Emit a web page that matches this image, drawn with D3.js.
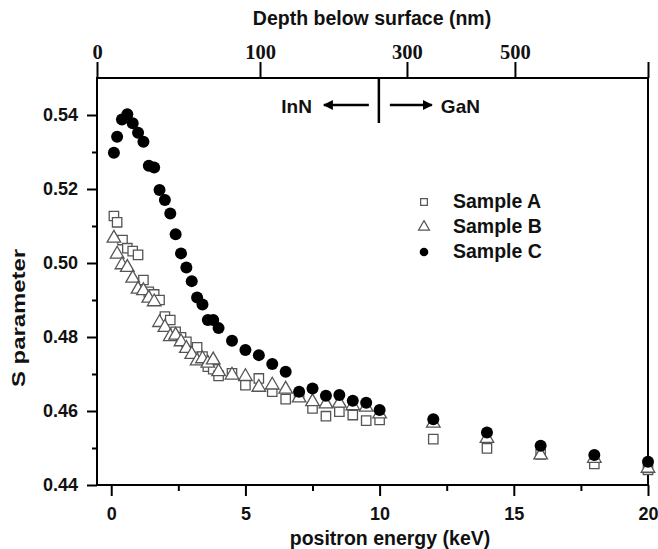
<!DOCTYPE html>
<html><head><meta charset="utf-8">
<script src="https://cdn.jsdelivr.net/npm/d3@7"></script>
<style>body{margin:0;background:#fff}svg{display:block}</style>
</head><body><svg id="c" width="658" height="549"></svg>
<script>
// ---- data ----
const energyC = [0.1,0.22,0.4,0.6,0.8,1.0,1.2,1.4,1.6,1.8,2.0,2.2,2.4,2.6,2.8,3.0,3.2,3.4,3.6,3.8,4.0,4.5,5.0,5.5,6.0,6.5,7.0,7.5,8.0,8.5,9.0,9.5,10,12,14,16,18,20];
const sampleC = [0.5298,0.5341,0.5388,0.5402,0.5378,0.5352,0.5328,0.5263,0.5258,0.5197,0.5170,0.5134,0.5078,0.5026,0.4988,0.4951,0.4907,0.4888,0.4846,0.4846,0.4824,0.4790,0.4765,0.4751,0.4727,0.4706,0.4652,0.4661,0.4641,0.4643,0.4628,0.4622,0.4603,0.4578,0.4542,0.4506,0.4481,0.4463];
const energyA = [0.1,0.22,0.42,0.6,0.8,1.0,1.2,1.4,1.6,1.8,2.0,2.2,2.4,2.6,2.8,3.2,3.4,3.6,3.8,4.0,4.5,5.0,5.5,6.0,6.5,7.0,7.5,8.0,8.5,9.0,9.5,10,12,14,16,18,20];
const sampleA = [0.5127,0.5110,0.5062,0.5040,0.5032,0.5022,0.4954,0.4922,0.4915,0.4900,0.4855,0.4846,0.4814,0.4799,0.4787,0.4772,0.4747,0.4720,0.4713,0.4695,0.4702,0.4670,0.4688,0.4652,0.4632,0.4639,0.4607,0.4586,0.4598,0.4589,0.4574,0.4576,0.4524,0.4499,0.4483,0.4457,0.4441];
const energyB = [0.1,0.22,0.4,0.6,0.8,1.0,1.2,1.4,1.6,1.8,2.0,2.2,2.4,2.6,2.8,3.0,3.2,3.4,3.6,3.8,4.0,4.5,5.0,5.5,6.0,6.5,7.0,7.5,8.0,8.5,9.0,9.5,10,12,14,16,18,20];
const sampleB = [0.5067,0.5024,0.4995,0.4988,0.4959,0.4929,0.4925,0.4905,0.4895,0.4839,0.4826,0.4801,0.4805,0.4787,0.4769,0.4753,0.4735,0.4741,0.4729,0.4738,0.4706,0.4697,0.4693,0.4664,0.4670,0.4659,0.4635,0.4625,0.4619,0.4621,0.4614,0.4610,0.4592,0.4567,0.4526,0.4481,0.4472,0.4445];
const seriesNames = ["Sample A","Sample B","Sample C"];
const xMajorTicks = [0,5,10,15,20];
const xMinorTicks = [2.5,7.5,12.5,17.5];
const yMajorTicks = [0.44,0.46,0.48,0.50,0.52,0.54];
const yMinorTicks = [0.45,0.47,0.49,0.51,0.53];
const depthTicks = [0,100,300,500];
const depthMax = 802;
const interfaceDepth = 255;

// ---- layout ----
const L=97, R=648, T=78, B=485;
const svg = d3.select("#c");
const x = d3.scaleLinear().domain([-0.53,20]).range([L,R]);
const y = d3.scaleLinear().domain([0.44,0.55]).range([B,T]);
const xTop = d3.scalePow().exponent(0.585).domain([0,depthMax]).range([L,R]);

const sans = "'Liberation Sans', Arial, sans-serif";
const serif = "'Liberation Serif', 'Times New Roman', serif";
const ink = "#111";

function styleAxis(g, font, size){
  g.select(".domain").remove();
  g.selectAll(".tick line").attr("stroke","#000").attr("stroke-width",2);
  g.selectAll(".tick text").attr("font-family",font).attr("font-size",size).attr("font-weight","bold").attr("fill",ink);
}

// bottom axis
svg.append("g").attr("transform",`translate(0,${B})`)
  .call(d3.axisBottom(x).tickValues(xMajorTicks).tickSize(11).tickPadding(11).tickFormat(d3.format("d")))
  .call(g=>styleAxis(g,sans,18));
svg.append("g").attr("transform",`translate(0,${B})`)
  .call(d3.axisBottom(x).tickValues(xMinorTicks).tickSize(6).tickFormat(""))
  .call(g=>styleAxis(g,sans,18));
// left axis
svg.append("g").attr("transform",`translate(${L},0)`)
  .call(d3.axisLeft(y).tickValues(yMajorTicks).tickSize(10).tickPadding(9).tickFormat(d3.format(".2f")))
  .call(g=>styleAxis(g,sans,18));
svg.append("g").attr("transform",`translate(${L},0)`)
  .call(d3.axisLeft(y).tickValues(yMinorTicks).tickSize(5).tickFormat(""))
  .call(g=>styleAxis(g,sans,18));
// top axis
svg.append("g").attr("transform",`translate(0,${T})`)
  .call(d3.axisTop(xTop).tickValues(depthTicks.concat([depthMax])).tickSize(16).tickPadding(3).tickFormat(d=>d===depthMax?"":d))
  .call(g=>styleAxis(g,serif,20.5));

// frame
svg.append("rect").attr("x",L).attr("y",T).attr("width",R-L).attr("height",B-T)
  .attr("fill","none").attr("stroke","#000").attr("stroke-width",2);

// titles
svg.append("text").attr("x",372).attr("y",25).attr("text-anchor","middle")
  .attr("font-family",sans).attr("font-weight","bold").attr("font-size",19.5).attr("fill",ink)
  .text("Depth below surface (nm)");
svg.append("text").attr("x",390).attr("y",545).attr("text-anchor","middle")
  .attr("font-family",sans).attr("font-weight","bold").attr("font-size",19.5).attr("fill",ink)
  .text("positron energy (keV)");
svg.append("text").attr("transform",`translate(25,318) rotate(-90)`).attr("text-anchor","middle")
  .attr("font-family",sans).attr("font-weight","bold").attr("font-size",18.5).attr("fill",ink)
  .attr("textLength",138).attr("lengthAdjust","spacingAndGlyphs")
  .text("S parameter");

// interface annotation
const xi = xTop(interfaceDepth);
svg.append("line").attr("x1",xi).attr("x2",xi).attr("y1",T).attr("y2",T+45).attr("stroke","#000").attr("stroke-width",2.5);
const defs = svg.append("defs");
defs.append("marker").attr("id","ah").attr("viewBox","0 0 10 10").attr("refX",9).attr("refY",5)
  .attr("markerWidth",4).attr("markerHeight",4).attr("orient","auto-start-reverse")
  .append("path").attr("d","M0,0 L10,5 L0,10 z").attr("fill","#000");
const ay = 105;
svg.append("line").attr("x1",xi-10).attr("x2",xi-55).attr("y1",ay).attr("y2",ay).attr("stroke","#000").attr("stroke-width",2.5).attr("marker-end","url(#ah)");
svg.append("line").attr("x1",xi+11).attr("x2",xi+53).attr("y1",ay).attr("y2",ay).attr("stroke","#000").attr("stroke-width",2.5).attr("marker-end","url(#ah)");
svg.append("text").attr("x",xi-67).attr("y",ay+8).attr("text-anchor","end")
  .attr("font-family",sans).attr("font-weight","bold").attr("font-size",19).attr("fill",ink).text("InN");
svg.append("text").attr("x",xi+62).attr("y",ay+8).attr("text-anchor","start")
  .attr("font-family",sans).attr("font-weight","bold").attr("font-size",19).attr("fill",ink).text("GaN");

// markers
const sq = d3.symbol().type(d3.symbolSquare).size(88);
const tri = d3.symbol().type(d3.symbolTriangle).size(80);
const gA = svg.append("g");
gA.selectAll("path").data(energyA.map((e,i)=>[e,sampleA[i]])).join("path")
  .attr("d",sq).attr("transform",d=>`translate(${x(d[0])},${y(d[1])})`)
  .attr("fill","#fff").attr("stroke","#555").attr("stroke-width",1.3);
const gB = svg.append("g");
gB.selectAll("path").data(energyB.map((e,i)=>[e,sampleB[i]])).join("path")
  .attr("d",tri).attr("transform",d=>`translate(${x(d[0])},${y(d[1])})`)
  .attr("fill","#fff").attr("stroke","#555").attr("stroke-width",1.3);
const gC = svg.append("g");
gC.selectAll("circle").data(energyC.map((e,i)=>[e,sampleC[i]])).join("circle")
  .attr("cx",d=>x(d[0])).attr("cy",d=>y(d[1])).attr("r",6).attr("fill","#000");

// legend
const lg = svg.append("g");
const ly = [202,227,252];
lg.append("path").attr("d",d3.symbol().type(d3.symbolSquare).size(45)).attr("transform",`translate(424,${ly[0]})`).attr("fill","#fff").attr("stroke","#555").attr("stroke-width",1.2);
lg.append("path").attr("d",d3.symbol().type(d3.symbolTriangle).size(52)).attr("transform",`translate(424,${ly[1]})`).attr("fill","#fff").attr("stroke","#555").attr("stroke-width",1.2);
lg.append("circle").attr("cx",424).attr("cy",ly[2]).attr("r",4.3).attr("fill","#000");
seriesNames.forEach((n,i)=>{
  lg.append("text").attr("x",453).attr("y",ly[i]+6).attr("font-family",sans).attr("font-weight","bold").attr("font-size",19.5).attr("fill",ink).text(n);
});
</script></body></html>
